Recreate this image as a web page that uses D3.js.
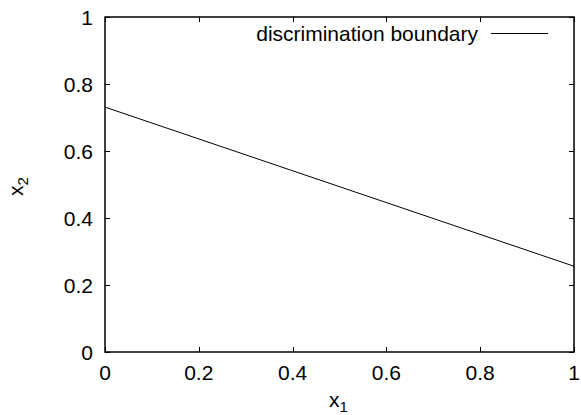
<html>
  <head>
    <meta charset="utf-8">
    <title>discrimination boundary</title>
    <style>
      body { margin: 0; background: #fff; }
      text { font-family: "Liberation Sans", Arial, sans-serif; font-size: 21px; fill: #000; }
      .sub { font-size: 15px; }
    </style>
  </head>
  <body>
    <script src="https://d3js.org/d3.v7.min.js"></script>
    <script>
      // Chart data
      var xTicks = [0, 0.2, 0.4, 0.6, 0.8, 1];
      var yTicks = [0, 0.2, 0.4, 0.6, 0.8, 1];
      var boundaryX = [0, 1];
      var boundaryY = [0.731, 0.256];
      var seriesName = 'discrimination boundary';

      var W = 581, H = 415;
      var margin = {left: 105, right: 7, top: 17, bottom: 63};

      var svg = d3.select('body').append('svg')
        .attr('width', W)
        .attr('height', H);

      var x = d3.scaleLinear().domain([0, 1]).range([margin.left, W - margin.right]);
      var y = d3.scaleLinear().domain([0, 1]).range([H - margin.bottom, margin.top]);

      var TICK = 5;

      // Ticks (gnuplot style: inward, mirrored)
      var g = svg.append('g').attr('stroke', '#000').attr('stroke-width', 1);
      xTicks.forEach(function(t) {
        var px = Math.round(x(t)) + 0.5;
        g.append('line').attr('x1', px).attr('x2', px).attr('y1', y(0)).attr('y2', y(0) - TICK);
        g.append('line').attr('x1', px).attr('x2', px).attr('y1', y(1)).attr('y2', y(1) + TICK);
      });
      yTicks.forEach(function(t) {
        var py = Math.round(y(t)) + 0.5;
        g.append('line').attr('x1', x(0)).attr('x2', x(0) + TICK).attr('y1', py).attr('y2', py);
        g.append('line').attr('x1', x(1)).attr('x2', x(1) - TICK).attr('y1', py).attr('y2', py);
      });

      // Tick labels
      svg.append('g').selectAll('text').data(xTicks).join('text')
        .attr('x', function(d) { return x(d); })
        .attr('y', y(0) + 28)
        .attr('text-anchor', 'middle')
        .text(function(d) { return d3.format('~g')(d); });

      svg.append('g').selectAll('text').data(yTicks).join('text')
        .attr('x', x(0) - 12)
        .attr('y', function(d) { return y(d) + 7.5; })
        .attr('text-anchor', 'end')
        .text(function(d) { return d3.format('~g')(d); });

      // Border
      svg.append('rect')
        .attr('x', x(0)).attr('y', y(1))
        .attr('width', x(1) - x(0)).attr('height', y(0) - y(1))
        .attr('fill', 'none').attr('stroke', '#000').attr('stroke-width', 1.5);

      // Boundary line
      var line = d3.line()
        .x(function(d, i) { return x(boundaryX[i]); })
        .y(function(d) { return y(d); });
      svg.append('path')
        .datum(boundaryY)
        .attr('d', line)
        .attr('fill', 'none')
        .attr('stroke', '#000')
        .attr('stroke-width', 1);

      // Legend
      svg.append('text')
        .attr('x', 478).attr('y', 40.5)
        .attr('text-anchor', 'end')
        .text(seriesName);
      svg.append('line')
        .attr('x1', 491).attr('x2', 548).attr('y1', 33.5).attr('y2', 33.5)
        .attr('stroke', '#000').attr('stroke-width', 1);

      // Axis labels
      var xl = svg.append('text')
        .attr('x', 329).attr('y', 407);
      xl.append('tspan').text('x');
      xl.append('tspan').attr('class', 'sub').attr('dy', 5).text('1');

      var yl = svg.append('text')
        .attr('transform', 'translate(23, 196) rotate(-90)');
      yl.append('tspan').text('x');
      yl.append('tspan').attr('class', 'sub').attr('dy', 5).text('2');
    </script>
  </body>
</html>
